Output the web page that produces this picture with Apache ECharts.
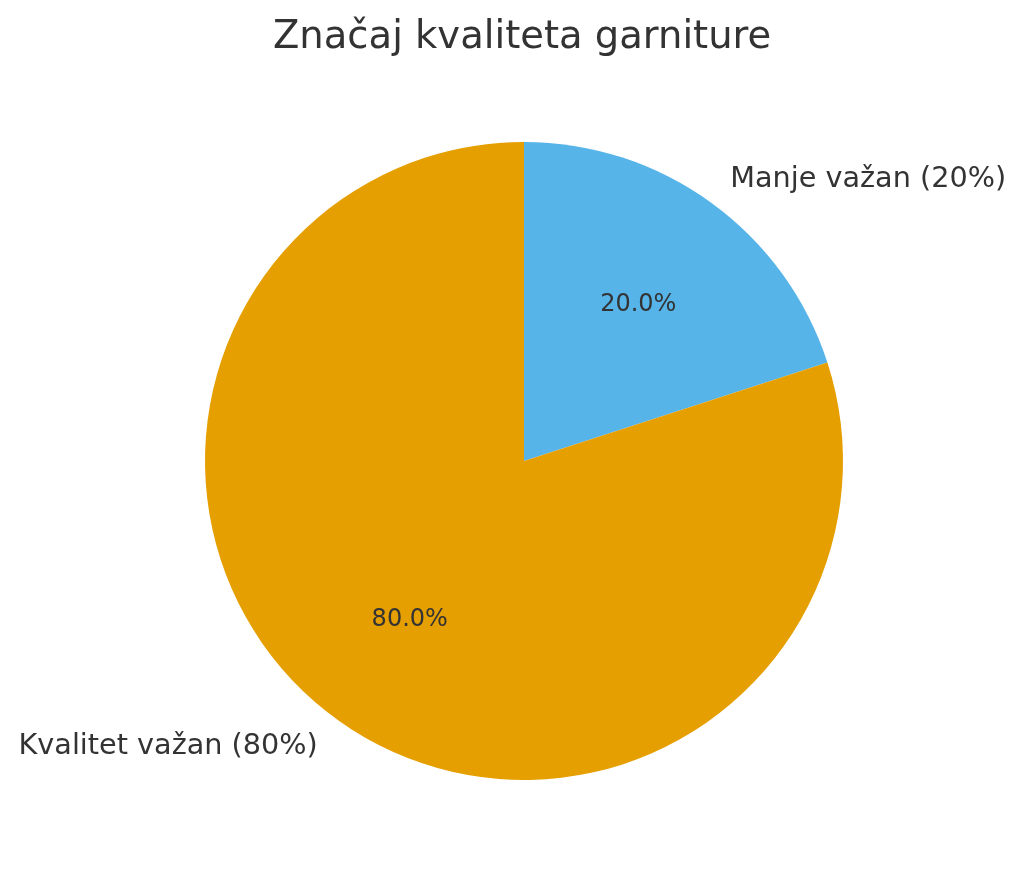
<!DOCTYPE html>
<html>
<head>
<meta charset="utf-8">
<style>
  html, body { margin: 0; padding: 0; background: #ffffff; }
  #chart { width: 1024px; height: 878px; }
</style>
<script src="https://cdn.jsdelivr.net/npm/echarts@6/dist/echarts.min.js"></script>
</head>
<body>
<div id="chart"></div>
<script>
const titleText = 'Značaj kvaliteta garniture';
const categories = ['Manje važan (20%)', 'Kvalitet važan (80%)'];
const values = [20, 80];
const colors = ['#56B4E9', '#E69F00'];

const FONT = 'DejaVu Sans';
const TEXT = '#333333';
const CX = 524, CY = 461, R = 319;

const chart = echarts.init(document.getElementById('chart'), null, { renderer: 'canvas' });

const dataOuter = categories.map((c, i) => ({ name: c, value: values[i], itemStyle: { color: colors[i] } }));
const dataInner = categories.map((c, i) => ({ name: c, value: values[i] }));

chart.setOption({
  animation: false,
  backgroundColor: '#ffffff',
  title: {
    text: titleText,
    left: 268,
    top: 13,
    padding: 5,
    textStyle: { fontFamily: FONT, fontSize: 38.5, fontWeight: 'normal', color: TEXT }
  },
  series: [
    {
      type: 'pie',
      center: [CX, CY],
      radius: [0, R],
      startAngle: 90,
      clockwise: true,
      avoidLabelOverlap: false,
      silent: true,
      data: dataOuter,
      itemStyle: { borderWidth: 0 },
      label: {
        show: true,
        position: 'outside',
        alignTo: 'none',
        distanceToLabelLine: 0,
        formatter: '{b}',
        fontFamily: FONT,
        fontSize: 28.7,
        color: TEXT,
        offset: [0, 2]
      },
      labelLine: { show: false, length: R * 0.1, length2: 0 }
    },
    {
      type: 'pie',
      center: [CX, CY],
      radius: [0, R * 1.2],
      startAngle: 90,
      clockwise: true,
      avoidLabelOverlap: false,
      silent: true,
      data: dataInner,
      itemStyle: { color: 'rgba(0,0,0,0)', borderWidth: 0 },
      label: {
        show: true,
        position: 'inside',
        formatter: p => p.percent.toFixed(1) + '%',
        fontFamily: FONT,
        fontSize: 24,
        color: TEXT,
        offset: [0, 1]
      },
      labelLine: { show: false }
    }
  ]
});
</script>
</body>
</html>
